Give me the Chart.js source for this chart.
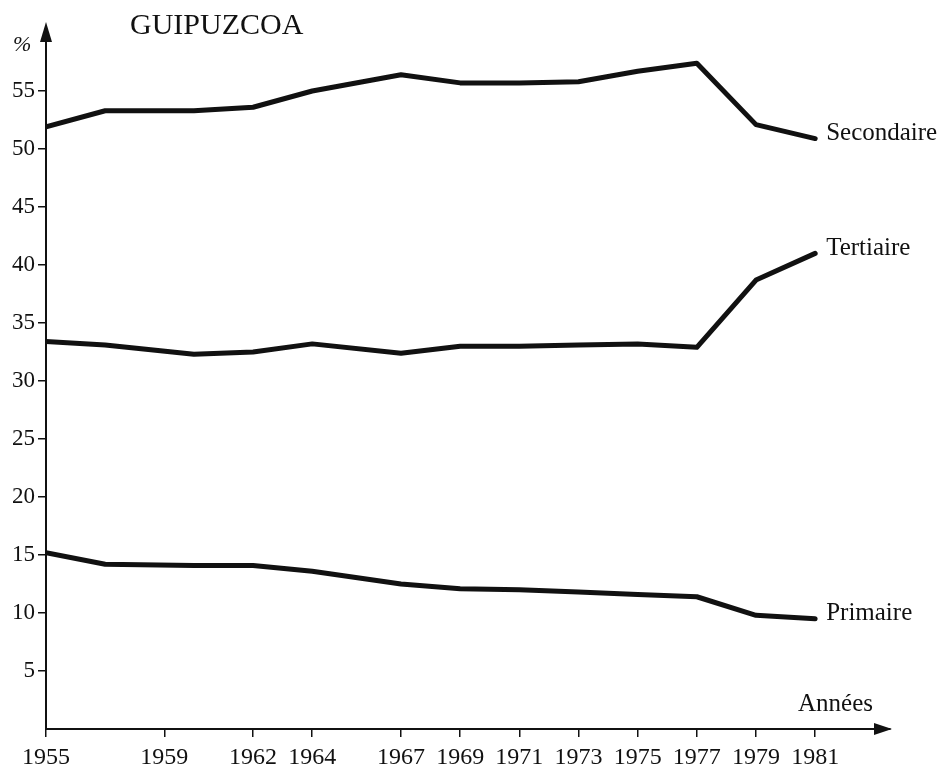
<!DOCTYPE html>
<html>
<head>
<meta charset="utf-8">
<script src="https://cdn.jsdelivr.net/npm/chart.js@4"></script>
<style>
  body { margin: 0; background: #fff; }
  #wrap { width: 948px; height: 769px; }
</style>
</head>
<body>
<div id="wrap"><canvas id="myChart" width="948" height="769"></canvas></div>
<script>
// data (%)
const years = [1955, 1957, 1960, 1962, 1964, 1967, 1969, 1971, 1973, 1975, 1977, 1979, 1981];
const secondaire = [51.9, 53.3, 53.3, 53.6, 55.0, 56.4, 55.7, 55.7, 55.8, 56.7, 57.4, 52.1, 50.9];
const tertiaire = [33.4, 33.1, 32.3, 32.5, 33.2, 32.4, 33.0, 33.0, 33.1, 33.2, 32.9, 38.7, 41.0];
const primaire = [15.2, 14.2, 14.1, 14.1, 13.6, 12.5, 12.1, 12.0, 11.8, 11.6, 11.4, 9.8, 9.5];
const xTicks = [1955, 1959, 1962, 1964, 1967, 1969, 1971, 1973, 1975, 1977, 1979, 1981];
const yTicks = [5, 10, 15, 20, 25, 30, 35, 40, 45, 50, 55];

const serif = "'Liberation Serif', 'DejaVu Serif', serif";
const ink = "#111";

function toPoints(values) {
  return years.map((y, i) => ({ x: y, y: values[i] }));
}

const lineStyle = {
  borderColor: ink,
  borderWidth: 5,
  pointRadius: 0,
  fill: false,
  tension: 0,
  borderJoinStyle: "round",
  borderCapStyle: "round",
};

// arrows, axis captions, title and series names
const decorations = {
  id: "decorations",
  afterDraw(chart) {
    const ctx = chart.ctx;
    const area = chart.chartArea;
    const left = area.left, bottom = area.bottom;
    ctx.save();
    ctx.fillStyle = ink;

    // y arrow
    ctx.beginPath();
    ctx.moveTo(left, area.top - 11);
    ctx.lineTo(left - 6, area.top + 9);
    ctx.lineTo(left + 6, area.top + 9);
    ctx.closePath();
    ctx.fill();
    // x arrow
    ctx.beginPath();
    ctx.moveTo(area.right + 2, bottom);
    ctx.lineTo(area.right - 16, bottom - 6);
    ctx.lineTo(area.right - 16, bottom + 6);
    ctx.closePath();
    ctx.fill();

    ctx.textBaseline = "middle";
    ctx.textAlign = "left";
    ctx.font = "30px " + serif;
    ctx.fillText("GUIPUZCOA", 130, 26);
    ctx.font = "italic 22px " + serif;
    ctx.fillText("%", 13, 45);
    ctx.font = "25px " + serif;
    ctx.fillText("Années", 798, 704);

    chart.data.datasets.forEach((ds, i) => {
      const pts = chart.getDatasetMeta(i).data;
      const last = pts[pts.length - 1];
      ctx.fillText(ds.label, last.x + 11, last.y - 5);
    });
    ctx.restore();
  },
};

const ctx = document.getElementById("myChart").getContext("2d");
const myChart = new Chart(ctx, {
  type: "line",
  data: {
    datasets: [
      { label: "Secondaire", data: toPoints(secondaire), ...lineStyle },
      { label: "Tertiaire", data: toPoints(tertiaire), ...lineStyle },
      { label: "Primaire", data: toPoints(primaire), ...lineStyle },
    ],
  },
  options: {
    responsive: false,
    animation: false,
    layout: { padding: { top: 33, right: 58, left: 0, bottom: 0 } },
    plugins: {
      legend: { display: false },
      tooltip: { enabled: false },
    },
    scales: {
      x: {
        type: "linear",
        min: 1955,
        max: 1983.53,
        afterBuildTicks: (scale) => {
          scale.ticks = xTicks.map((v) => ({ value: v }));
        },
        afterFit: (scale) => {
          scale.height = 40;
        },
        ticks: {
          color: ink,
          font: { family: serif, size: 24 },
          padding: 6,
          maxRotation: 0,
          autoSkip: false,
          callback: (v) => String(v),
        },
        grid: {
          drawOnChartArea: false,
          color: ink,
          lineWidth: 1.5,
          tickLength: 8,
        },
        border: { color: ink, width: 2 },
      },
      y: {
        min: 0,
        max: 60,
        afterBuildTicks: (scale) => {
          scale.ticks = yTicks.map((v) => ({ value: v }));
        },
        afterFit: (scale) => {
          scale.width = 46;
        },
        ticks: {
          color: ink,
          font: { family: serif, size: 23 },
          padding: 3,
          autoSkip: false,
        },
        grid: {
          drawOnChartArea: false,
          color: ink,
          lineWidth: 1.5,
          tickLength: 8,
        },
        border: { color: ink, width: 2 },
      },
    },
  },
  plugins: [decorations],
});
</script>
</body>
</html>
